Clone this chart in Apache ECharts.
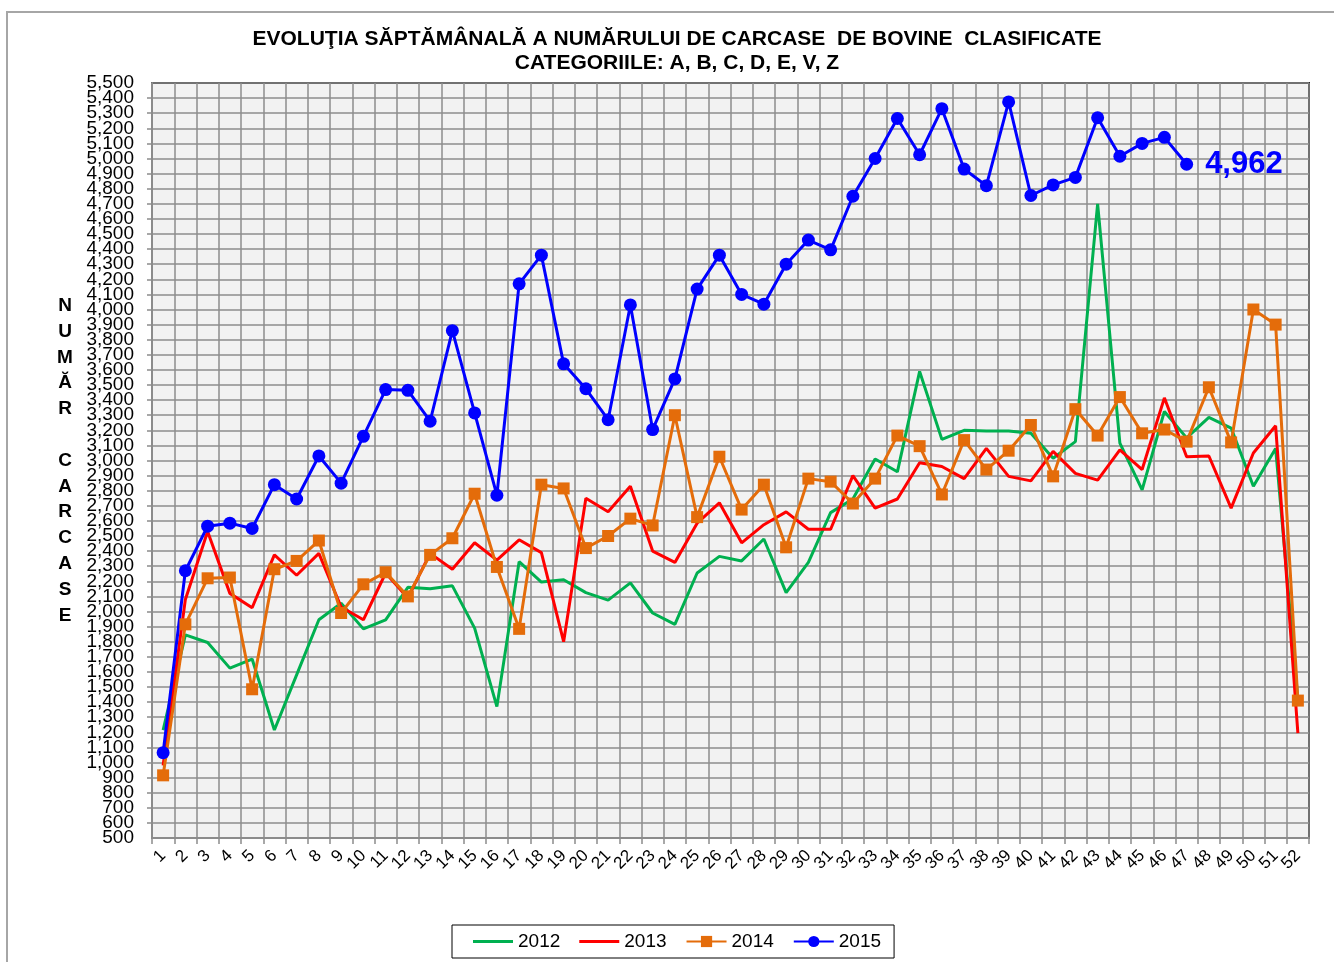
<!DOCTYPE html>
<html>
<head>
<meta charset="utf-8">
<script src="https://cdn.jsdelivr.net/npm/echarts@6/dist/echarts.min.js"></script>
<style>
  html, body { margin: 0; padding: 0; background: #fff; }
  #chart { width: 1334px; height: 962px; }
</style>
</head>
<body>
<div id="chart"></div>
<script>
// weeks 1..52
var weeks = [];
for (var w = 1; w <= 52; w++) weeks.push(String(w));

var y2012 = [1215, 1845, 1795, 1625, 1685, 1215, 1580, 1945, 2055, 1885,
             1945, 2160, 2150, 2170, 1890, 1370, 2330, 2195, 2210, 2125,
             2075, 2190, 1990, 1915, 2255, 2365, 2335, 2480, 2125, 2325,
             2655, 2745, 3010, 2925, 3590, 3140, 3200, 3195, 3195, 3180,
             3015, 3125, 4700, 3115, 2805, 3325, 3150, 3285, 3215, 2830,
             3080, 1420];

var y2013 = [980, 2080, 2530, 2120, 2025, 2375, 2240, 2385, 2030, 1945,
             2255, 2090, 2385, 2280, 2455, 2340, 2475, 2390, 1800, 2750,
             2660, 2830, 2400, 2325, 2585, 2720, 2455, 2575, 2660, 2545,
             2545, 2900, 2685, 2745, 2985, 2960, 2880, 3080, 2895, 2865,
             3060, 2915, 2870, 3070, 2940, 3415, 3025, 3030, 2685, 3050,
             3230, 1195];

var y2014 = [915, 1915, 2220, 2225, 1485, 2280, 2335, 2470, 1990, 2180,
             2260, 2100, 2375, 2485, 2780, 2295, 1885, 2840, 2815, 2420,
             2500, 2615, 2570, 3300, 2625, 3025, 2675, 2840, 2425, 2880,
             2860, 2715, 2880, 3165, 3095, 2775, 3135, 2940, 3065, 3235,
             2895, 3340, 3165, 3420, 3180, 3205, 3125, 3485, 3120, 4000,
             3900, 1410];

var y2015 = [1065, 2270, 2565, 2585, 2550, 2840, 2745, 3030, 2850, 3160,
             3470, 3465, 3260, 3860, 3315, 2770, 4170, 4360, 3640, 3475,
             3270, 4030, 3205, 3540, 4135, 4360, 4100, 4035, 4300, 4460,
             4395, 4750, 5000, 5265, 5025, 5330, 4930, 4820, 5375, 4755,
             4825, 4875, 5270, 5015, 5100, 5140, 4962];

var yMin = 500, yMax = 5500, yStep = 100;

var FONT = '"Liberation Sans", Arial, sans-serif';
// plain line icon for the series without markers
var LINE_ICON = 'path://M0,0L40,0L40,3L0,3Z';

// last 2015 value gets the big blue label
var data2015 = y2015.map(function (v, i) {
    if (i === y2015.length - 1) {
        return {
            value: v,
            label: {
                show: true,
                position: 'right',
                distance: 12,
                color: '#0000ff',
                fontSize: 31,
                fontWeight: 'bold',
                fontFamily: FONT,
                formatter: function (p) { return echarts.format.addCommas(p.value); }
            }
        };
    }
    return v;
});

var yLabelStyle = {
    fontSize: 19,
    color: '#000',
    margin: 18,
    fontFamily: FONT
};

var myChart = echarts.init(document.getElementById('chart'));
myChart.setOption({
    animation: false,
    textStyle: { fontFamily: FONT },
    title: {
        text: 'EVOLUŢIA SĂPTĂMÂNALĂ A NUMĂRULUI DE CARCASE  DE BOVINE  CLASIFICATE\nCATEGORIILE: A, B, C, D, E, V, Z',
        left: 677,
        top: 27,
        padding: 0,
        textAlign: 'center',
        textStyle: {
            fontSize: 21,
            fontWeight: 'bold',
            color: '#000',
            lineHeight: 24,
            fontFamily: FONT
        }
    },
    graphic: [{
        type: 'rect',
        shape: { x: 7, y: 12, width: 1400, height: 1000 },
        style: { fill: 'none', stroke: '#a6a6a6', lineWidth: 2 },
        silent: true,
        z: -10
    }],
    legend: {
        left: 452,
        top: 925,
        padding: [7, 13, 7, 21],
        itemWidth: 40,
        itemHeight: 14,
        itemGap: 19,
        borderColor: '#000',
        borderWidth: 1,
        textStyle: { fontSize: 19, color: '#000', fontFamily: FONT },
        data: [
            { name: '2012', icon: LINE_ICON },
            { name: '2013', icon: LINE_ICON },
            '2014',
            '2015'
        ]
    },
    grid: {
        left: 152,
        right: 25,
        top: 83,
        bottom: 124,
        show: true,
        backgroundColor: '#f2f2f2',
        borderColor: '#222',
        borderWidth: 2
    },
    xAxis: {
        type: 'category',
        data: weeks,
        boundaryGap: true,
        axisLine: { lineStyle: { color: '#8c8c8c', width: 2 } },
        axisTick: { show: true, interval: 0, length: 6, lineStyle: { color: '#8c8c8c', width: 1.5 } },
        axisLabel: { interval: 0, rotate: 45, fontSize: 17, color: '#000', margin: 15, fontFamily: FONT },
        splitLine: { show: true, interval: 0, lineStyle: { color: '#8c8c8c', width: 1.5 } }
    },
    yAxis: [{
        type: 'value',
        min: yMin,
        max: yMax,
        interval: yStep,
        name: 'N\nU\nM\nĂ\nR\n \nC\nA\nR\nC\nA\nS\nE',
        nameLocation: 'middle',
        nameRotate: 0,
        nameGap: 87,
        nameTextStyle: {
            fontSize: 19,
            fontWeight: 'bold',
            color: '#000',
            lineHeight: 25.8,
            align: 'center',
            verticalAlign: 'middle',
            fontFamily: FONT,
            padding: [20, 0, 0, 0]
        },
        axisLine: { show: true, lineStyle: { color: '#8c8c8c', width: 2 } },
        axisTick: { show: true, length: 5, lineStyle: { color: '#8c8c8c', width: 1.5 } },
        axisLabel: Object.assign({
            showMinLabel: false,
            showMaxLabel: false,
            formatter: function (v) { return echarts.format.addCommas(v); }
        }, yLabelStyle),
        splitLine: { show: true, lineStyle: { color: '#8c8c8c', width: 1.5 } }
    }, {
        // second axis only carries the end labels (5,500 and 500)
        type: 'value',
        position: 'left',
        min: yMin,
        max: yMax,
        interval: yStep,
        axisLine: { show: false },
        axisTick: { show: false },
        splitLine: { show: false },
        axisLabel: Object.assign({
            showMinLabel: true,
            showMaxLabel: true,
            formatter: function (v) {
                return (v === yMin || v === yMax) ? echarts.format.addCommas(v) : '';
            }
        }, yLabelStyle)
    }],
    series: [
        {
            name: '2012',
            type: 'line',
            symbol: 'none',
            color: '#00b050',
            lineStyle: { width: 3, color: '#00b050' },
            data: y2012
        },
        {
            name: '2013',
            type: 'line',
            symbol: 'none',
            color: '#ff0000',
            lineStyle: { width: 3, color: '#ff0000' },
            data: y2013
        },
        {
            name: '2014',
            type: 'line',
            symbol: 'rect',
            symbolSize: 12,
            color: '#e46c0a',
            itemStyle: { color: '#e46c0a' },
            lineStyle: { width: 3, color: '#e46c0a' },
            data: y2014
        },
        {
            name: '2015',
            type: 'line',
            symbol: 'circle',
            symbolSize: 13,
            color: '#0000ff',
            itemStyle: { color: '#0000ff' },
            lineStyle: { width: 3, color: '#0000ff' },
            data: data2015
        }
    ]
});
</script>
</body>
</html>
